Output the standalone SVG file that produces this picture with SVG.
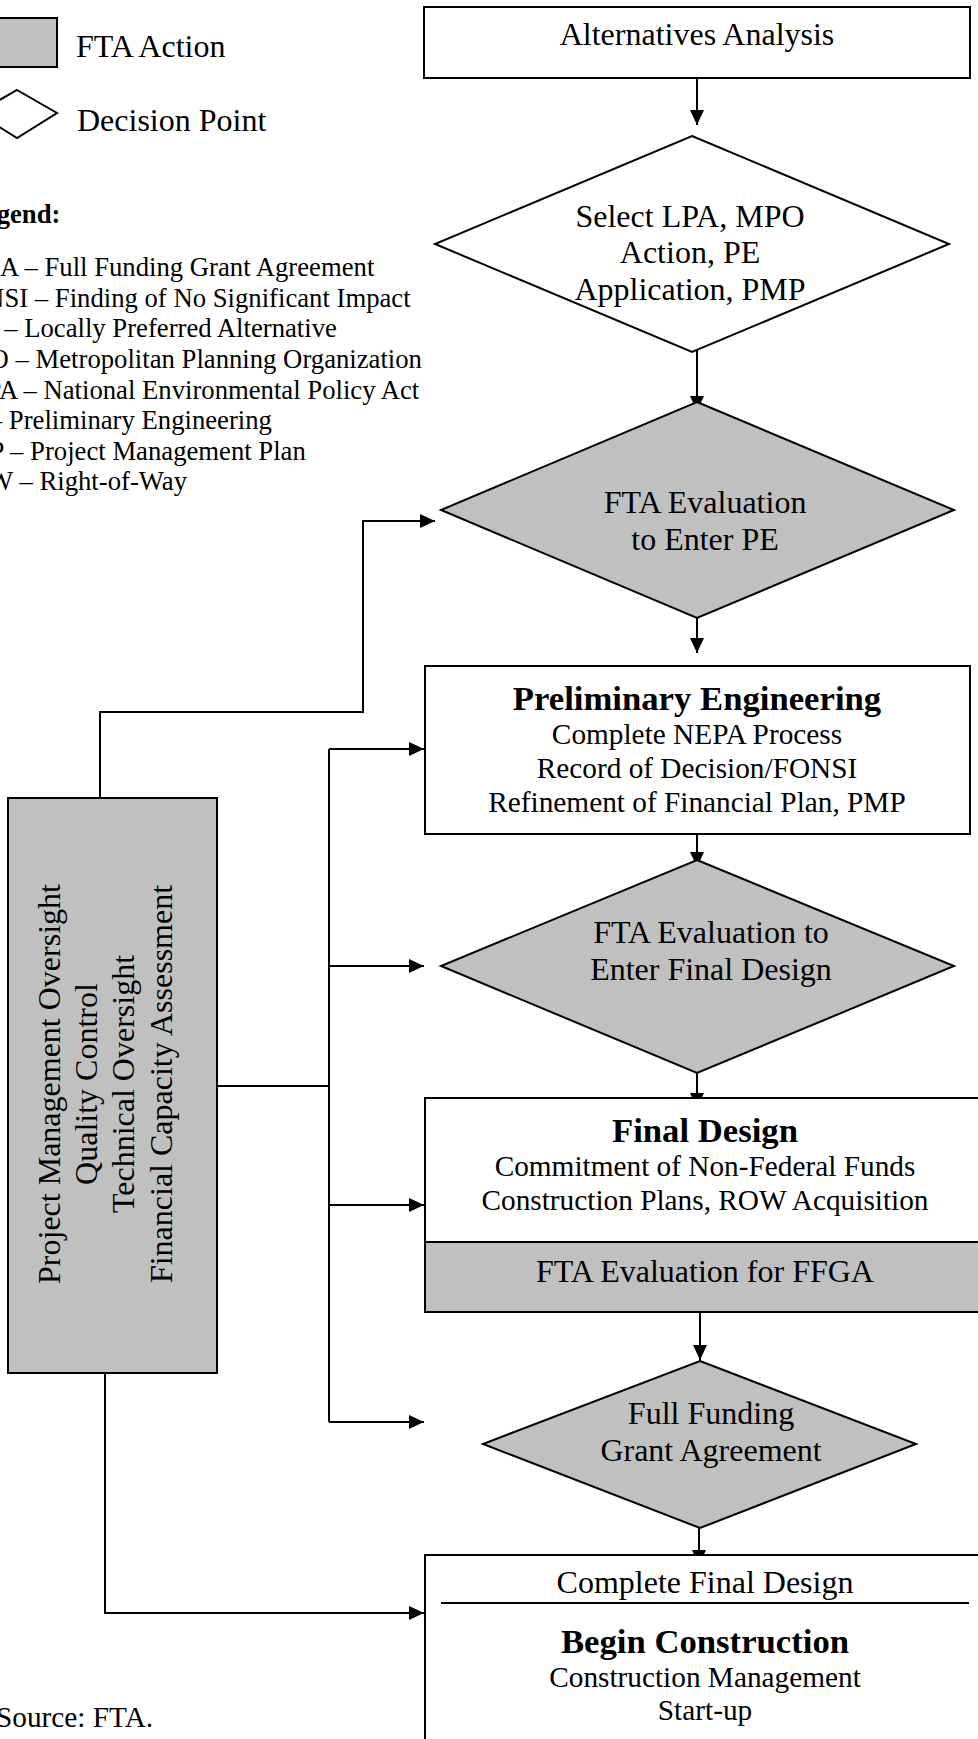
<svg xmlns="http://www.w3.org/2000/svg" width="978" height="1739" viewBox="0 0 978 1739">
<style>
text{font-family:"Liberation Serif","Times New Roman",serif;fill:#000}
.m{font-size:32px;text-anchor:middle}
.s{font-size:29.3px;text-anchor:middle}
.b{font-size:34.7px;font-weight:bold;text-anchor:middle}
.lg{font-size:26.7px}
.box{fill:#fff;stroke:#000;stroke-width:2}
.gray{fill:#c0c0c0;stroke:#000;stroke-width:2}
.c{fill:none;stroke:#000;stroke-width:2}
.a{marker-end:url(#ah)}
</style>
<defs>
<marker id="ah" markerUnits="userSpaceOnUse" markerWidth="15" markerHeight="14" refX="15" refY="7" orient="auto">
<path d="M0,0 L15,7 L0,14 z" fill="#000"/>
</marker>
</defs>
<rect x="0" y="0" width="978" height="1739" fill="#fff"/>

<g id="legend">
<rect class="gray" x="-40" y="18" width="97" height="49"/>
<text class="m" x="76" y="57" style="text-anchor:start">FTA Action</text>
<polygon class="box" points="17,90 57,113 17,138 -23,113"/>
<text class="m" x="77" y="131" style="text-anchor:start">Decision Point</text>
<text class="lg" x="-33" y="223" font-weight="bold">Legend:</text>
<text class="lg" x="-49" y="276">FFGA – Full Funding Grant Agreement</text>
<text class="lg" x="-49" y="307">FONSI – Finding of No Significant Impact</text>
<text class="lg" x="-49" y="337">LPA – Locally Preferred Alternative</text>
<text class="lg" x="-49" y="368">MPO – Metropolitan Planning Organization</text>
<text class="lg" x="-49" y="399">NEPA – National Environmental Policy Act</text>
<text class="lg" x="-49" y="429">PE – Preliminary Engineering</text>
<text class="lg" x="-49" y="460">PMP – Project Management Plan</text>
<text class="lg" x="-49" y="490">ROW – Right-of-Way</text>
</g>

<g id="connectors">
<path class="c a" d="M697,78 V125"/>
<path class="c a" d="M697,342 V411"/>
<path class="c a" d="M697,605 V653"/>
<path class="c a" d="M697,822 V867"/>
<path class="c a" d="M697,1062 V1108"/>
<path class="c a" d="M700,1313 V1360"/>
<path class="c a" d="M699,1517 V1565"/>
<path class="c a" d="M100,808 V712 H363 V521 H435"/>
<path class="c" d="M217,1086 H329"/>
<path class="c" d="M329,749 V1422"/>
<path class="c a" d="M329,749 H424"/>
<path class="c a" d="M329,966 H424"/>
<path class="c a" d="M329,1205 H424"/>
<path class="c a" d="M329,1422 H424"/>
<path class="c a" d="M105,1373 V1613 H424"/>
</g>

<g id="alternatives-analysis">
<rect class="box" x="424" y="7" width="546" height="71"/>
<text class="m" x="697" y="45">Alternatives Analysis</text>
</g>

<g id="select-lpa">
<polygon class="box" points="692,136 949,244 692,352 435,244"/>
<text class="m" x="690" y="227">Select LPA, MPO</text>
<text class="m" x="690" y="263">Action, PE</text>
<text class="m" x="690" y="300">Application, PMP</text>
</g>

<g id="fta-eval-pe">
<polygon class="gray" points="697,402 954,510 697,618 441,510"/>
<text class="m" x="705" y="513">FTA Evaluation</text>
<text class="m" x="705" y="550">to Enter PE</text>
</g>

<g id="preliminary-engineering">
<rect class="box" x="425" y="666" width="545" height="168"/>
<text class="b" x="697" y="710">Preliminary Engineering</text>
<text class="s" x="697" y="744">Complete NEPA Process</text>
<text class="s" x="697" y="778">Record of Decision/FONSI</text>
<text class="s" x="697" y="812">Refinement of Financial Plan, PMP</text>
</g>

<g id="fta-eval-fd">
<polygon class="gray" points="697,860 954,966 697,1073 441,966"/>
<text class="m" x="711" y="943">FTA Evaluation to</text>
<text class="m" x="711" y="980">Enter Final Design</text>
</g>

<g id="final-design">
<rect class="box" x="425" y="1098" width="570" height="144"/>
<rect class="gray" x="425" y="1242" width="570" height="70"/>
<text class="b" x="705" y="1142">Final Design</text>
<text class="s" x="705" y="1176">Commitment of Non-Federal Funds</text>
<text class="s" x="705" y="1210">Construction Plans, ROW Acquisition</text>
<text class="m" x="705" y="1282">FTA Evaluation for FFGA</text>
</g>

<g id="ffga">
<polygon class="gray" points="700,1361 916,1444 700,1528 483,1444"/>
<text class="m" x="711" y="1424">Full Funding</text>
<text class="m" x="711" y="1461">Grant Agreement</text>
</g>

<g id="begin-construction">
<rect class="box" x="425" y="1555" width="570" height="200"/>
<text class="m" x="705" y="1593">Complete Final Design</text>
<line x1="441" y1="1603" x2="969" y2="1603" stroke="#000" stroke-width="2"/>
<text class="b" x="705" y="1653">Begin Construction</text>
<text class="s" x="705" y="1687">Construction Management</text>
<text class="s" x="705" y="1720">Start-up</text>
</g>

<g id="oversight">
<rect class="gray" x="8" y="798" width="209" height="575"/>
<text class="m" transform="translate(60,1084) rotate(-90)">Project Management Oversight</text>
<text class="m" transform="translate(97,1084) rotate(-90)">Quality Control</text>
<text class="m" transform="translate(134,1084) rotate(-90)">Technical Oversight</text>
<text class="m" transform="translate(172,1084) rotate(-90)">Financial Capacity Assessment</text>
</g>

<g id="source">
<text x="-4" y="1727" style="font-size:29.3px">Source: FTA.</text>
</g>
</svg>
